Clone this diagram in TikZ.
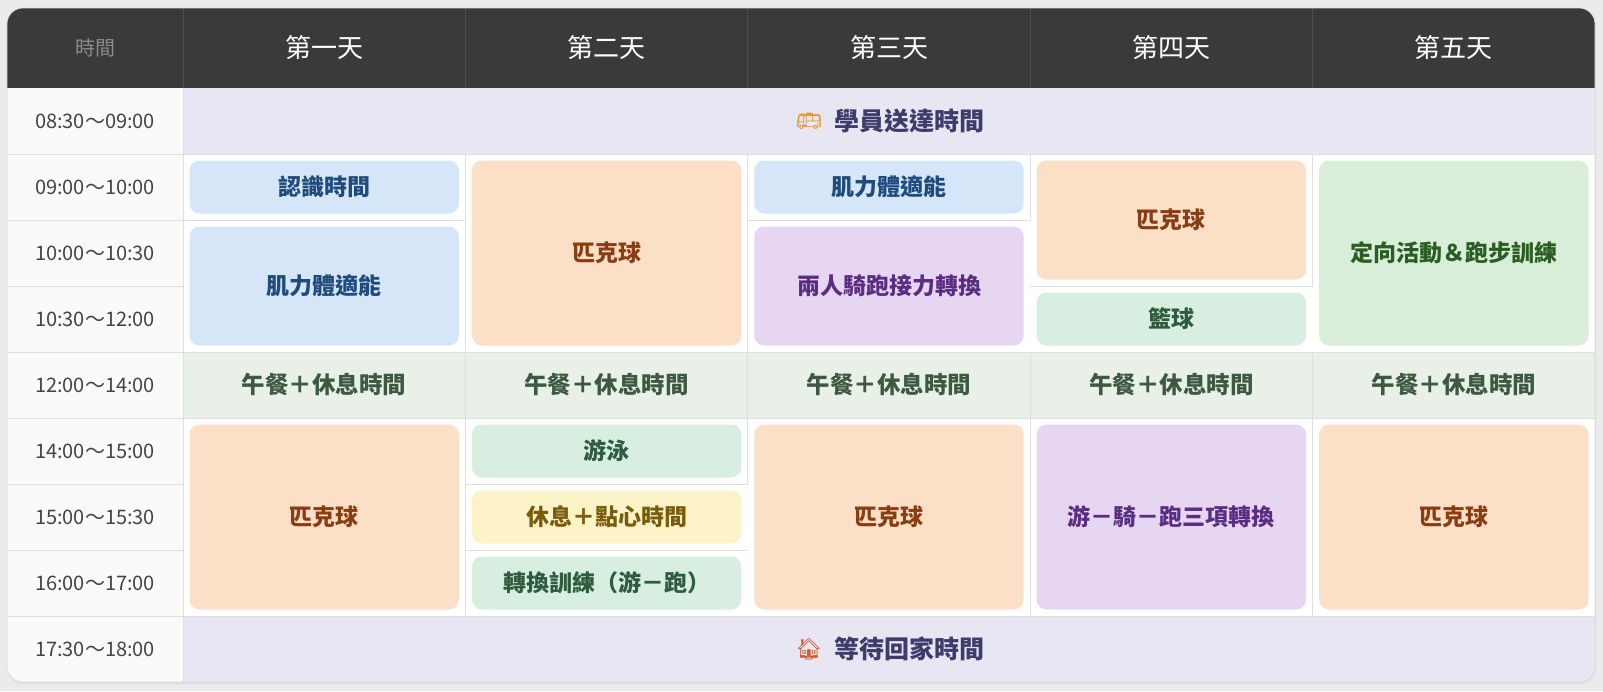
\documentclass[tikz,border=0pt]{standalone}
\usepackage{fontspec}
\setmainfont{Noto Sans CJK TC}
\newfontfamily\emojifont{Noto Emoji}
\usepackage{tikz}
\usetikzlibrary{positioning}
\usepackage{xcolor}

\definecolor{pagegray}{HTML}{EBEBEB}
\definecolor{shadowgray}{HTML}{DFDFDF}
\definecolor{cardedge}{HTML}{DCDCDC}
\definecolor{headdark}{HTML}{3A3A3A}
\definecolor{headline}{HTML}{4E4E4E}
\definecolor{headgray}{HTML}{8C8C8C}
\definecolor{timebg}{HTML}{FAFAF8}
\definecolor{timegray}{HTML}{444444}
\definecolor{gridgray}{HTML}{DFDFDF}
\definecolor{busfill}{HTML}{E8E6F2}
\definecolor{bustext}{HTML}{3C3D6C}
\definecolor{busicon}{HTML}{E39A2C}
\definecolor{houseicon}{HTML}{D65A2E}
\definecolor{lunchfill}{HTML}{E9F0E8}
\definecolor{lunchtext}{HTML}{3D5A40}
\definecolor{fitfill}{HTML}{D4E6F8}
\definecolor{fittext}{HTML}{1F4C7C}
\definecolor{pickfill}{HTML}{FBDFC7}
\definecolor{picktext}{HTML}{8A3C12}
\definecolor{relayfill}{HTML}{E7D6F2}
\definecolor{relaytext}{HTML}{5A2D82}
\definecolor{swimfill}{HTML}{D7EEE0}
\definecolor{swimtext}{HTML}{2F5C3F}
\definecolor{snackfill}{HTML}{FDF3C9}
\definecolor{snacktext}{HTML}{7A5C0C}
\definecolor{runfill}{HTML}{D9EED8}
\definecolor{runtext}{HTML}{2A5E22}

\begin{document}
\begin{tikzpicture}[x=1pt,y=-1pt,
    gridline/.style={draw=gridgray, line width=1pt},
    headsep/.style={draw=headline, line width=1pt},
    headcell/.style={text=white, font=\fontsize{26}{31}\selectfont},
    timecell/.style={text=timegray, font=\fontsize{20}{24}\selectfont},
    bannertext/.style={text=bustext, font=\fontsize{25}{29}\selectfont\bfseries},
    emojitext/.style={inner sep=0pt, font=\fontsize{21}{25}\selectfont\emojifont},
    lunchcell/.style={text=lunchtext, font=\fontsize{23.5}{28}\selectfont\bfseries},
    actbox/.style={rounded corners=10pt, inner sep=0pt, minimum width=269.4pt,
        font=\fontsize{23}{27}\selectfont\bfseries},
    onerow/.style={minimum height=53pt},
    tworow/.style={minimum height=119pt},
    threerow/.style={minimum height=185pt},
    fitbox/.style={actbox, fill=fitfill, text=fittext},
    pickbox/.style={actbox, fill=pickfill, text=picktext},
    relaybox/.style={actbox, fill=relayfill, text=relaytext},
    swimbox/.style={actbox, fill=swimfill, text=swimtext},
    snackbox/.style={actbox, fill=snackfill, text=snacktext},
    runbox/.style={actbox, fill=runfill, text=runtext}]

% Page and card
\fill[pagegray] (0,0) rectangle (1603,691);
\useasboundingbox (0,0) rectangle (1603,691);
\fill[shadowgray, rounded corners=16pt] (7,9.5) rectangle (1596,684);
\begin{scope}
\clip[rounded corners=16pt] (7,8) rectangle (1595,682);
\fill[white] (7,8) rectangle (1595,682);
\fill[headdark] (7,8) rectangle (1595,88);
\fill[timebg] (7,88) rectangle (183,682);
\fill[busfill] (183,88) rectangle (1595,154);
\fill[busfill] (183,616) rectangle (1595,682);
\fill[lunchfill] (183,352) rectangle (1595,418);
\end{scope}

% Header dividers
\draw[headsep] (183,8) -- (183,88);
\draw[headsep] (465.4,8) -- (465.4,88);
\draw[headsep] (747.8,8) -- (747.8,88);
\draw[headsep] (1030.2,8) -- (1030.2,88);
\draw[headsep] (1312.6,8) -- (1312.6,88);

% Grid lines
\draw[gridline] (183,88) -- (183,682);
\draw[gridline] (7,154) -- (1595,154);
\draw[gridline] (7,220) -- (465.4,220);
\draw[gridline] (747.8,220) -- (1030.2,220);
\draw[gridline] (7,286) -- (183,286);
\draw[gridline] (1030.2,286) -- (1312.6,286);
\draw[gridline] (7,352) -- (1595,352);
\draw[gridline] (7,418) -- (1595,418);
\draw[gridline] (7,484) -- (183,484);
\draw[gridline] (465.4,484) -- (747.8,484);
\draw[gridline] (7,550) -- (183,550);
\draw[gridline] (465.4,550) -- (747.8,550);
\draw[gridline] (7,616) -- (1595,616);
\draw[gridline] (465.4,154) -- (465.4,616);
\draw[gridline] (747.8,154) -- (747.8,484);
\draw[gridline] (1030.2,154) -- (1030.2,220);
\draw[gridline] (1030.2,352) -- (1030.2,616);
\draw[gridline] (1312.6,154) -- (1312.6,286);
\draw[gridline] (1312.6,352) -- (1312.6,616);
\draw[draw=cardedge, line width=0.6pt, rounded corners=16pt] (7,8) rectangle (1595,682);

% Header row
\node[text=headgray, font=\fontsize{20}{24}\selectfont] (htime) at (95,48) {時間};
\node[headcell] (day1) at (324.2,48) {第一天};
\node[headcell] (day2) at (606.6,48) {第二天};
\node[headcell] (day3) at (889,48) {第三天};
\node[headcell] (day4) at (1171.4,48) {第四天};
\node[headcell] (day5) at (1453.8,48) {第五天};

% Time column
\node[timecell] (t0830) at (95,121) {08:30～09:00};
\node[timecell] (t0900) at (95,187) {09:00～10:00};
\node[timecell] (t1000) at (95,253) {10:00～10:30};
\node[timecell] (t1030) at (95,319) {10:30～12:00};
\node[timecell] (t1200) at (95,385) {12:00～14:00};
\node[timecell] (t1400) at (95,451) {14:00～15:00};
\node[timecell] (t1500) at (95,517) {15:00～15:30};
\node[timecell] (t1600) at (95,583) {16:00～17:00};
\node[timecell] (t1730) at (95,649) {17:30～18:00};

% Arrival and pick-up rows
\node[bannertext] (arrive) at (909,121) {學員送達時間};
\node[emojitext, text=busicon, left=8pt of arrive] (bus) {🚌};
\node[bannertext] (leave) at (909,649) {等待回家時間};
\node[emojitext, text=houseicon, left=8pt of leave] (house) {🏠};

% Morning
\node[fitbox, onerow] (d1meet) at (324.2,187) {認識時間};
\node[fitbox, tworow] (d1fit) at (324.2,286) {肌力體適能};
\node[pickbox, threerow] (d2pick) at (606.6,253) {匹克球};
\node[fitbox, onerow] (d3fit) at (889,187) {肌力體適能};
\node[relaybox, tworow] (d3relay) at (889,286) {兩人騎跑接力轉換};
\node[pickbox, tworow] (d4pick) at (1171.4,220) {匹克球};
\node[swimbox, onerow] (d4ball) at (1171.4,319) {籃球};
\node[runbox, threerow] (d5run) at (1453.8,253) {定向活動＆跑步訓練};

% Lunch
\node[lunchcell] (d1lunch) at (324.2,385) {午餐＋休息時間};
\node[lunchcell] (d2lunch) at (606.6,385) {午餐＋休息時間};
\node[lunchcell] (d3lunch) at (889,385) {午餐＋休息時間};
\node[lunchcell] (d4lunch) at (1171.4,385) {午餐＋休息時間};
\node[lunchcell] (d5lunch) at (1453.8,385) {午餐＋休息時間};

% Afternoon
\node[pickbox, threerow] (d1pickpm) at (324.2,517) {匹克球};
\node[swimbox, onerow] (d2swim) at (606.6,451) {游泳};
\node[snackbox, onerow] (d2snack) at (606.6,517) {休息＋點心時間};
\node[swimbox, onerow] (d2trans) at (606.6,583) {轉換訓練（游－跑）};
\node[pickbox, threerow] (d3pickpm) at (889,517) {匹克球};
\node[relaybox, threerow] (d4tri) at (1171.4,517) {游－騎－跑三項轉換};
\node[pickbox, threerow] (d5pickpm) at (1453.8,517) {匹克球};

\end{tikzpicture}
\end{document}
